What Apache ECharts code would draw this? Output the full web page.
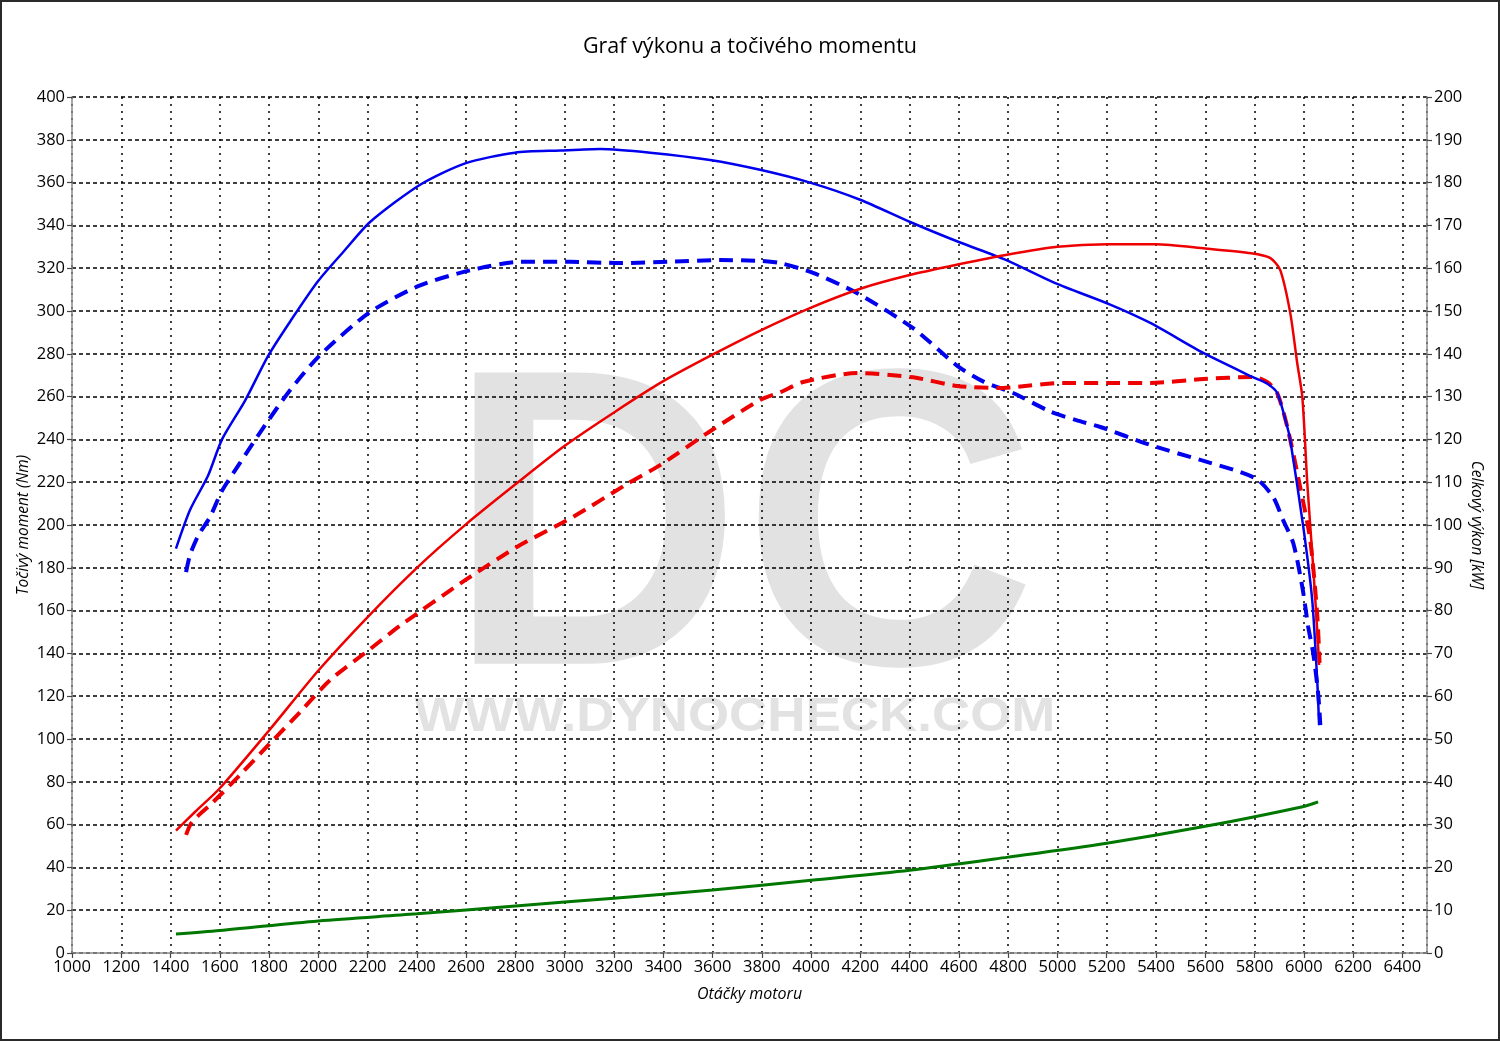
<!DOCTYPE html>
<html>
<head>
<meta charset="utf-8">
<script src="https://cdn.jsdelivr.net/npm/echarts@6/dist/echarts.min.js"></script>
<style>
html,body{margin:0;padding:0;background:#fff;}
#main{width:1500px;height:1041px;}
</style>
</head>
<body>
<div id="main"></div>
<script>
// ---- data ----
const tunedTorqueRpm = [1422,1479,1552,1609,1702,1796,1885,1999,2108,2210,2413,2596,2798,2981,3144,3347,3590,3793,3996,4199,4402,4605,4788,4991,5214,5377,5592,5795,5852,5892,5933,5945,5998,6034,6055,6062];
const tunedTorque    = [189,207,223,240,258,279,295,314,328.5,341.6,359,369,374,375,375.7,374,370.6,366,360,352,341.6,332,324,313,303,294.4,280.4,269,266,261.7,245.8,239.7,199,165,126,106.5];

const stockTorqueRpm = [1463,1479,1512,1560,1609,1682,1784,1885,2007,2210,2413,2616,2819,3022,3225,3428,3631,3793,3874,4008,4186,4414,4592,4700,4820,4971,5076,5174,5377,5580,5742,5815,5876,5916,5957,5994,6018,6038,6058,6067];
const stockTorque    = [178,186,195,203.7,216,229,246.7,263,279.4,299.5,312,319,323,323,322.4,323,323.8,323.4,322.4,317.8,308.4,292,274.5,267,261.7,253,249,245.8,237.4,230.4,224.8,221,213,202.3,191.6,171,152.3,140.2,121.5,106.5];

const tunedPowerRpm = [1422,1500,1600,1800,2000,2200,2400,2600,2800,3000,3200,3400,3600,3800,4000,4200,4400,4600,4800,5000,5200,5400,5600,5786,5863,5904,5945,5973,5994,6014,6038,6055,6062];
const tunedPower    = [28.6,33,38.5,52,66,78.5,90,100.2,109.5,118.5,126.3,133.6,139.8,145.6,150.8,155.2,158.4,160.9,163.2,165,165.6,165.6,164.6,163.5,162.4,159.6,149.5,137.9,129.9,109.8,90.2,74.8,67.3];

const stockPowerRpm = [1463,1487,1568,1682,1804,1926,2048,2210,2332,2596,2807,3034,3245,3387,3598,3793,3874,3968,4186,4414,4592,4760,4820,5024,5200,5377,5592,5795,5852,5892,5933,5985,6026,6054,6064];
const stockPower    = [27.6,30.6,35,41.6,49,56.3,63.8,71,76.5,87.1,94.9,101.9,109.3,114,122.2,129.2,131,133.4,135.5,134.5,132.5,132,132.2,133.2,133.2,133.2,134.1,134.6,133.4,130.8,122.9,108.9,96.5,79.4,67.8];

const lossRpm = [1422,1600,2000,2400,2800,3200,3600,4000,4400,4800,5200,5600,6000,6058];
const loss    = [8.9,10.5,15,18.3,22,25.6,29.4,34,38.7,44.8,51.3,59.2,68.5,70.6];

const xTicks = {min:1000, max:6500, interval:200};
const leftTicks = {min:0, max:400, interval:20};
const rightTicks = {min:0, max:200, interval:10};

const zip = (a,b) => a.map((v,i)=>[v,b[i]]);

const FONT = '"Open Sans", "Noto Sans", sans-serif';
const chart = echarts.init(document.getElementById('main'), null, {renderer:'canvas'});

const axisLine = {show:true, lineStyle:{color:'#8a8a8a', width:1.5}};
const axisTick = {show:true, length:5, lineStyle:{color:'#444', width:1.2}};
const label = {color:'#000', fontSize:16.5, fontFamily:FONT, formatter:(v)=>String(v)};
const SM = 0.25;

chart.setOption({
  backgroundColor:'#fff',
  animation:false,
  title:{
    text:'Graf výkonu a točivého momentu',
    left:'center', top:31,
    textStyle:{fontFamily:FONT, fontSize:21.5, fontWeight:'normal', color:'#000'}
  },
  grid:{left:72, right:73, top:97, bottom:88, containLabel:false},
  graphic:[
    {type:'rect', z:-100, silent:true, shape:{x:1, y:1, width:1498, height:1039},
     style:{fill:null, stroke:'#2a2a2a', lineWidth:2}},
    {type:'text', z:-50, silent:true, x:742, y:547, scaleX:0.965,
     style:{text:'DC', font:'bold 423px "Liberation Sans"', fill:'#e2e2e2', textAlign:'center', textVerticalAlign:'middle'}},
    {type:'text', z:-50, silent:true, x:735, y:717, scaleX:1.08,
     style:{text:'WWW.DYNOCHECK.COM', font:'bold 49px "Liberation Sans"', fill:'#e2e2e2', textAlign:'center', textVerticalAlign:'middle'}}
  ],
  xAxis:{
    type:'value', min:xTicks.min, max:xTicks.max, interval:xTicks.interval,
    name:'Otáčky motoru', nameLocation:'middle', nameGap:33, nameMoveOverlap:false,
    nameTextStyle:{fontFamily:FONT, fontSize:16, fontStyle:'italic', color:'#000'},
    axisLine:axisLine, axisTick:axisTick,
    axisLabel:Object.assign({margin:6, showMaxLabel:false}, label),
    splitLine:{show:true, lineStyle:{color:'#000', width:1.5, type:[2,5]}}
  },
  yAxis:[
    {type:'value', position:'left', min:leftTicks.min, max:leftTicks.max, interval:leftTicks.interval,
     name:'Točivý moment (Nm)', nameLocation:'middle', nameGap:40, nameMoveOverlap:false,
     nameTextStyle:{fontFamily:FONT, fontSize:15.5, fontStyle:'italic', color:'#000'},
     axisLine:axisLine, axisTick:axisTick,
     axisLabel:Object.assign({margin:7}, label),
     splitLine:{show:true, lineStyle:{color:'#000', width:1.5, type:[4,3]}}},
    {type:'value', position:'right', min:rightTicks.min, max:rightTicks.max, interval:rightTicks.interval,
     name:'Celkový výkon [kW]', nameLocation:'middle', nameGap:41, nameRotate:-90, nameMoveOverlap:false,
     nameTextStyle:{fontFamily:FONT, fontSize:15.5, fontStyle:'italic', color:'#000'},
     axisLine:axisLine, axisTick:axisTick,
     axisLabel:Object.assign({margin:7}, label),
     splitLine:{show:false}}
  ],
  series:[
    {name:'loss', type:'line', yAxisIndex:0, data:zip(lossRpm, loss), showSymbol:false, smooth:0.3,
     lineStyle:{color:'#007800', width:3}},
    {name:'stock torque', type:'line', yAxisIndex:0, data:zip(stockTorqueRpm, stockTorque), showSymbol:false, smooth:SM,
     lineStyle:{color:'#0000ee', width:4, type:[14,8]}},
    {name:'stock power', type:'line', yAxisIndex:1, data:zip(stockPowerRpm, stockPower), showSymbol:false, smooth:SM,
     lineStyle:{color:'#ee0000', width:4, type:[14,8]}},
    {name:'tuned torque', type:'line', yAxisIndex:0, data:zip(tunedTorqueRpm, tunedTorque), showSymbol:false, smooth:SM,
     lineStyle:{color:'#0000ee', width:2.5}},
    {name:'tuned power', type:'line', yAxisIndex:1, data:zip(tunedPowerRpm, tunedPower), showSymbol:false, smooth:SM,
     lineStyle:{color:'#ee0000', width:2.5}}
  ]
});
</script>
</body>
</html>
